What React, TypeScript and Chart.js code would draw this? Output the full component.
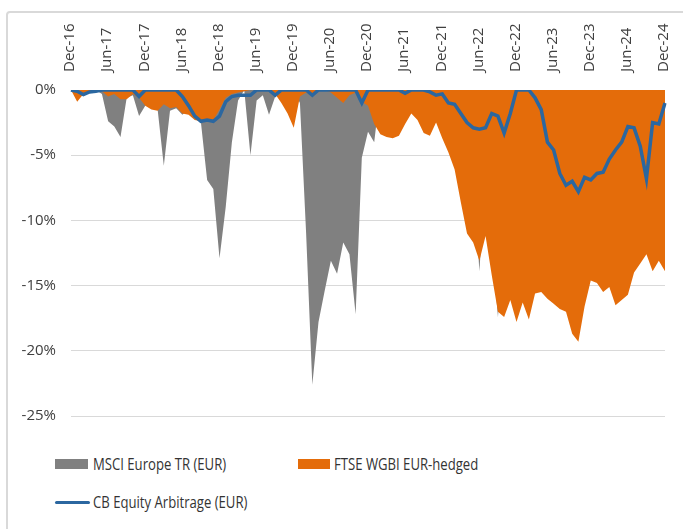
import React, { useEffect, useRef } from "react";
import { Chart, registerables } from "chart.js";

Chart.register(...registerables);

const MONTHS = ["Jan", "Feb", "Mar", "Apr", "May", "Jun", "Jul", "Aug", "Sep", "Oct", "Nov", "Dec"];
// Monthly categories Dec-16 .. Dec-24
const categories: string[] = [];
for (let i = 0; i <= 96; i++) {
  const m = (11 + i) % 12;
  const y = 16 + Math.floor((11 + i) / 12);
  categories.push(`${MONTHS[m]}-${y}`);
}

const yTicks = [0, -5, -10, -15, -20, -25];

const msciEurope = [
  0, 0, 0, 0, 0, -0.3, -2.4, -2.8, -3.6, -0.6, -0.4, -2.0, -1.2,
  -0.6, -1.5, -5.8, -1.6, -1.4, -1.9, -1.5, -2.0, -2.5, -6.9, -7.6, -12.9,
  -9.0, -4.0, -0.8, 0, -5.0, -0.8, -0.4, -1.9, -0.5, 0, 0, 0,
  -1.0, -11.0, -22.6, -17.8, -15.4, -13.1, -14.1, -11.7, -12.6, -17.2, -5.2, -3.2,
  -4.0, 0, 0, 0, 0, 0, -0.5, -1.0, -3.0, 0, -2.3, 0,
  -3.9, -5.5, -5.0, -5.4, -6.0, -13.9, -6.5, -11.5, -17.4, -11.5, -5.0, -8.5,
  -2.0, -0.5, -0.8, 0, 0, 0, -1.5, 0, -2.5, -5.5, -1.0, 0,
  0, 0, -1.5, -0.5, 0, 0, -1.0, 0, 0, -2.5, -1.5, -1.5,
];

const ftseWgbi = [
  0, -0.9, -0.3, -0.1, -0.1, -0.1, -0.5, -0.3, -0.7, -0.7, -0.3, -0.6, -1.2,
  -1.5, -1.6, -1.1, -1.4, -1.3, -1.8, -1.9, -2.3, -2.4, -2.4, -2.3, -1.5,
  -0.6, -0.3, -0.2, -0.1, 0, 0, -0.1, 0, -0.3, -1.0, -1.8, -2.9,
  -0.5, -0.2, -0.5, -0.1, 0, -0.2, -0.6, -1.0, -0.4, -0.2, -0.9, -1.2,
  -2.6, -3.4, -3.6, -3.7, -3.5, -2.6, -1.8, -2.3, -3.3, -3.5, -2.5, -3.7,
  -4.8, -6.1, -8.6, -11.0, -11.7, -13.1, -11.2, -14.2, -17.0, -17.4, -16.1, -17.8,
  -16.3, -17.6, -15.6, -15.5, -16.0, -16.4, -16.8, -17.0, -18.7, -19.3, -16.6, -14.6,
  -14.8, -15.5, -15.1, -16.5, -16.1, -15.7, -14.0, -13.3, -12.6, -13.9, -13.1, -13.9,
];

const cbEquityArb = [
  0, -0.1, -0.35, -0.15, -0.1, 0, 0, 0, 0, 0, 0, -0.5, 0,
  0, 0, 0, 0, 0, -0.5, -1.2, -2.0, -2.4, -2.3, -2.4, -2.0,
  -0.9, -0.5, -0.4, -0.4, -0.4, 0, 0, 0, -0.4, 0, 0, 0,
  0, 0, -0.4, 0, 0, 0, 0, 0, 0, 0, -1.0, 0,
  0, 0, 0, 0, 0, -0.25, 0, 0, 0, -0.15, -0.4, -0.3,
  -1.0, -1.1, -1.8, -2.5, -2.9, -3.0, -2.9, -1.8, -2.0, -3.3, -1.8, 0,
  0, 0, -0.6, -1.5, -4.0, -4.6, -6.4, -7.3, -7.0, -7.8, -6.7, -6.9,
  -6.4, -6.3, -5.3, -4.6, -4.0, -2.8, -2.9, -4.3, -6.8, -2.5, -2.6, -1.0,
];

const GRAY = "#808080";
const ORANGE = "#E46C0A";
const BLUE = "#2B67A0";
const TEXT = "#404040";
const FONT = "'Open Sans', 'Noto Sans', sans-serif";

export default function App() {
  const ref = useRef<HTMLCanvasElement | null>(null);

  useEffect(() => {
    if (!ref.current) return;
    const chart = new Chart(ref.current, {
      type: "line",
      data: {
        labels: categories,
        datasets: [
          {
            label: "CB Equity Arbitrage (EUR)",
            data: cbEquityArb,
            borderColor: BLUE,
            borderWidth: 3.5,
            fill: false,
            pointRadius: 0,
            tension: 0,
            order: 0,
          },
          {
            label: "FTSE WGBI EUR-hedged",
            data: ftseWgbi,
            borderWidth: 0,
            borderColor: ORANGE,
            backgroundColor: ORANGE,
            fill: "origin",
            pointRadius: 0,
            tension: 0,
            order: 1,
          },
          {
            label: "MSCI Europe TR (EUR)",
            data: msciEurope,
            borderWidth: 0,
            borderColor: GRAY,
            backgroundColor: GRAY,
            fill: "origin",
            pointRadius: 0,
            tension: 0,
            order: 2,
          },
        ],
      },
      options: {
        responsive: false,
        animation: false,
        devicePixelRatio: 1,
        layout: { padding: { top: 17, bottom: 22, right: 15, left: 0 } },
        plugins: { legend: { display: false }, tooltip: { enabled: false } },
        scales: {
          x: {
            position: "top",
            offset: false,
            grid: { display: false, drawTicks: false },
            border: { display: false },
            ticks: {
              autoSkip: false,
              maxRotation: 90,
              minRotation: 90,
              padding: 18,
              labelOffset: 17,
              color: TEXT,
              font: { family: FONT, size: 15 },
              callback: (_v: any, i: number) => (i % 6 === 0 ? categories[i] : ""),
            },
            afterFit: (s: any) => {
              s.height = 73;
            },
          },
          y: {
            min: -25,
            max: 0,
            afterBuildTicks: (s: any) => {
              s.ticks = yTicks.map((v) => ({ value: v }));
            },
            grid: { color: "#d9d9d9", lineWidth: 1, drawTicks: false },
            border: { display: false },
            ticks: {
              padding: 15,
              color: TEXT,
              font: { family: FONT, size: 15 },
              callback: (v: any) => `${v}%`,
            },
            afterFit: (s: any) => {
              s.width = 71;
            },
          },
        },
      },
    });
    return () => chart.destroy();
  }, []);

  const legendText: React.CSSProperties = {
    position: "absolute",
    fontFamily: FONT,
    fontSize: 16,
    color: "#333333",
    whiteSpace: "nowrap",
    transform: "scaleX(0.82)",
    transformOrigin: "left center",
    lineHeight: "20px",
  };

  return (
    <div
      style={{
        position: "fixed",
        left: 0,
        top: 0,
        width: 683,
        height: 529,
        overflow: "hidden",
        background: "#fff",
      }}
    >
      <div
        style={{
          position: "absolute",
          left: 6,
          top: 11,
          width: 700,
          height: 560,
          border: "2px solid #d9d9d9",
          borderRadius: 4,
        }}
      />
      <canvas ref={ref} width={683} height={440} style={{ position: "absolute", left: 0, top: 0 }} />
      <div style={{ position: "absolute", left: 55, top: 459, width: 33, height: 10, background: GRAY }} />
      <div style={{ ...legendText, left: 93, top: 454 }}>MSCI Europe TR (EUR)</div>
      <div style={{ position: "absolute", left: 298, top: 459, width: 32, height: 10, background: ORANGE }} />
      <div style={{ ...legendText, left: 334, top: 454 }}>FTSE WGBI EUR-hedged</div>
      <div style={{ position: "absolute", left: 55, top: 501, width: 35, height: 3, background: BLUE, borderRadius: 2 }} />
      <div style={{ ...legendText, left: 93, top: 492 }}>CB Equity Arbitrage (EUR)</div>
    </div>
  );
}
